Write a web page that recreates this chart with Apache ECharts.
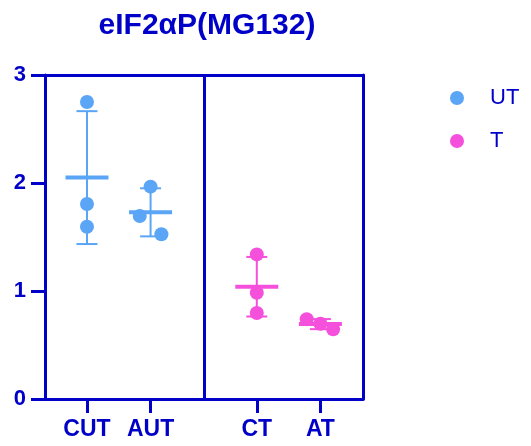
<!DOCTYPE html>
<html>
<head>
<meta charset="utf-8">
<script src="https://cdn.jsdelivr.net/npm/echarts@6/dist/echarts.min.js"></script>
<style>html,body{margin:0;padding:0;background:#fff;}#c{width:531px;height:446px;}</style>
</head>
<body>
<div id="c"></div>
<script>
// ---- data ----
const categories = ['CUT', 'AUT', 'CT', 'AT'];
const groups = ['UT', 'UT', 'T', 'T'];
const cutValues = [2.75, 1.805, 1.595];
const autValues = [1.966, 1.694, 1.525];
const ctValues = [1.339, 0.984, 0.796];
const atValues = [0.738, 0.697, 0.645];
const yTicks = [0, 1, 2, 3];
const titleText = 'eIF2αP(MG132)';

// ---- layout (not data) ----
const catPos = [0.66, 1.66, 3.33, 4.33];
const dividerPos = 2.5;
const jitters = [[0, 0, 0], [0, -0.17, 0.17], [0, 0, 0], [-0.215, 0, 0.2]];
const BLUE = '#0000C8';
const colors = { UT: '#5AA5F5', T: '#F550DC' };
const FONT = 'Liberation Sans';

const allValues = [cutValues, autValues, ctValues, atValues];

function meanSd(arr) {
  const m = arr.reduce((a, b) => a + b, 0) / arr.length;
  const v = arr.reduce((a, b) => a + (b - m) * (b - m), 0) / (arr.length - 1);
  return [m, Math.sqrt(v)];
}

function pointsFor(g) {
  const out = [];
  allValues.forEach((vals, i) => {
    if (groups[i] !== g) return;
    vals.forEach((v, j) => out.push([catPos[i] + jitters[i][j], v]));
  });
  return out;
}
function statsFor(g) {
  const out = [];
  allValues.forEach((vals, i) => {
    if (groups[i] !== g) return;
    const [m, s] = meanSd(vals);
    out.push([catPos[i], m, s]);
  });
  return out;
}

function renderErr(params, api) {
  const x = api.value(0), m = api.value(1), s = api.value(2);
  const c = api.coord([x, m]);
  const t = api.coord([x, m + s]);
  const b = api.coord([x, m - s]);
  const color = api.visual('color');
  return {
    type: 'group',
    children: [
      { type: 'line', shape: { x1: c[0], y1: t[1], x2: c[0], y2: b[1] }, style: { stroke: color, lineWidth: 2 } },
      { type: 'line', shape: { x1: c[0] - 10.5, y1: t[1], x2: c[0] + 10.5, y2: t[1] }, style: { stroke: color, lineWidth: 2 } },
      { type: 'line', shape: { x1: c[0] - 10.5, y1: b[1], x2: c[0] + 10.5, y2: b[1] }, style: { stroke: color, lineWidth: 2 } },
      { type: 'line', shape: { x1: c[0] - 21.5, y1: c[1], x2: c[0] + 21.5, y2: c[1] }, style: { stroke: color, lineWidth: 4 } }
    ]
  };
}

const chart = echarts.init(document.getElementById('c'), null, { renderer: 'canvas' });
chart.setOption({
  animation: false,
  backgroundColor: '#fff',
  title: {
    text: titleText,
    left: 202,
    textAlign: 'center',
    top: 6,
    textStyle: { fontFamily: FONT, fontWeight: 'bold', fontSize: 30, color: BLUE }
  },
  legend: {
    orient: 'vertical',
    left: 445,
    top: 82,
    itemWidth: 14,
    itemHeight: 14,
    itemGap: 21,
    icon: 'circle',
    data: [
      { name: 'UT', itemStyle: { color: colors.UT } },
      { name: 'T', itemStyle: { color: colors.T } }
    ],
    textStyle: { fontFamily: FONT, fontSize: 22, color: BLUE, padding: [0, 0, 0, 21] }
  },
  grid: { left: 45, right: 168, top: 75, bottom: 47 },
  xAxis: [
    {
      type: 'value', min: 0, max: 5, position: 'bottom',
      splitLine: { show: false },
      axisLine: { show: true, onZero: false, lineStyle: { color: BLUE, width: 3 } },
      axisTick: { show: true, customValues: catPos, length: 14, lineStyle: { color: BLUE, width: 3 } },
      axisLabel: {
        customValues: catPos, margin: 19,
        fontFamily: FONT, fontWeight: 'bold', fontSize: 23, color: BLUE,
        formatter: function (v) {
          let best = 0;
          catPos.forEach((p, i) => { if (Math.abs(p - v) < Math.abs(catPos[best] - v)) best = i; });
          return categories[best];
        }
      }
    },
    {
      type: 'value', min: 0, max: 5, position: 'top',
      splitLine: { show: false },
      axisLine: { show: true, onZero: false, lineStyle: { color: BLUE, width: 3 } },
      axisTick: { show: false }, axisLabel: { show: false }
    }
  ],
  yAxis: [
    {
      type: 'value', min: yTicks[0], max: yTicks[yTicks.length - 1], interval: 1, position: 'left',
      splitLine: { show: false },
      axisLine: { show: true, onZero: false, lineStyle: { color: BLUE, width: 3 } },
      axisTick: { show: true, length: 14, lineStyle: { color: BLUE, width: 3 } },
      axisLabel: { margin: 19, fontFamily: FONT, fontWeight: 'bold', fontSize: 22, color: BLUE }
    },
    {
      type: 'value', min: yTicks[0], max: yTicks[yTicks.length - 1], position: 'right',
      splitLine: { show: false },
      axisLine: { show: true, onZero: false, lineStyle: { color: BLUE, width: 3 } },
      axisTick: { show: false }, axisLabel: { show: false }
    }
  ],
  series: [
    {
      name: 'UT', type: 'scatter', symbol: 'circle', symbolSize: 14, z: 3,
      itemStyle: { color: colors.UT, opacity: 1 },
      data: pointsFor('UT'),
      markLine: {
        silent: true, symbol: 'none', label: { show: false },
        lineStyle: { color: BLUE, width: 3, type: 'solid' },
        data: [{ xAxis: dividerPos }]
      }
    },
    {
      name: 'T', type: 'scatter', symbol: 'circle', symbolSize: 14, z: 3,
      itemStyle: { color: colors.T, opacity: 1 },
      data: pointsFor('T')
    },
    {
      name: 'UT', type: 'custom', z: 2, renderItem: renderErr,
      itemStyle: { color: colors.UT },
      encode: { x: 0, y: 1 },
      data: statsFor('UT')
    },
    {
      name: 'T', type: 'custom', z: 2, renderItem: renderErr,
      itemStyle: { color: colors.T },
      encode: { x: 0, y: 1 },
      data: statsFor('T')
    }
  ]
});
</script>
</body>
</html>
